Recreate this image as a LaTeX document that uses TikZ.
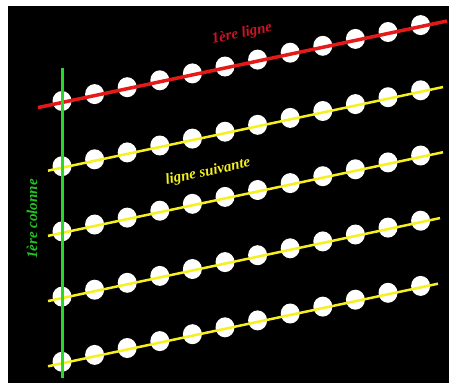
\documentclass[tikz,border=0pt]{standalone}
\usepackage{fontspec}
\setmainfont{Liberation Serif}
\usepackage{xcolor}
\usetikzlibrary{shapes.geometric}
\definecolor{rouge}{RGB}{230,25,25}
\definecolor{rougetxt}{RGB}{205,20,35}
\definecolor{jaune}{RGB}{245,240,30}
\definecolor{vert}{RGB}{40,215,40}

\begin{document}
\begin{tikzpicture}[x=1pt, y=-1pt, every node/.style={font=\fontsize{15}{18}\selectfont\bfseries\itshape}, dot/.style={ellipse, fill=white, minimum width=19pt, minimum height=20pt, inner sep=0pt}, redline/.style={rouge, line width=3.5pt}, yelline/.style={jaune, line width=2.5pt}, colline/.style={vert, line width=3pt}]
\useasboundingbox (0,0) rectangle (449,383);
\fill[white] (0,0) rectangle (449,383);
\fill[black] (8,6) rectangle (449,383);
% points of the grid
\foreach \r in {0,...,4}
  \foreach \c in {0,...,11}
    \node[dot] (d-\r-\c) at ({62+32.6*\c},{101+65.2*\r-6.9*\c}) {};
% rows
\foreach \r/\xa/\xb/\sty in {0/38/447/redline, 1/48/443/yelline, 2/48/443/yelline, 3/48/440/yelline, 4/48/438/yelline} {
  \coordinate (a-\r) at (\xa,{102.5+65.2*\r-0.2117*(\xa-62)});
  \coordinate (b-\r) at (\xb,{102.5+65.2*\r-0.2117*(\xb-62)});
  \draw[\sty] (a-\r) -- (b-\r);
}
% first column
\coordinate (col-top) at (62,68);
\coordinate (col-bot) at (62,378);
\draw[colline] (col-top) -- (col-bot);
\node[rougetxt, rotate=12] (lab-row) at (242,34) {1ère ligne};
\node[jaune, rotate=12] (lab-next) at (208,172) {ligne suivante};
\node[vert!90!black, rotate=90] (lab-col) at (32,219) {1ère colonne};
\end{tikzpicture}
\end{document}
